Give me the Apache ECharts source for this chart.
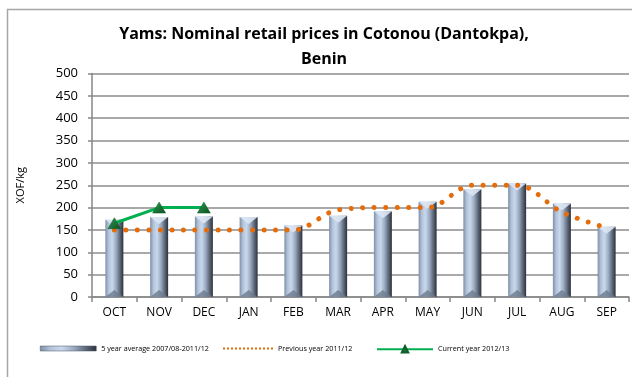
<!DOCTYPE html>
<html>
<head>
<meta charset="utf-8">
<script src="https://cdn.jsdelivr.net/npm/echarts@6/dist/echarts.min.js"></script>
<style>
  html, body { margin: 0; padding: 0; background: #fff; }
  #chart { width: 632px; height: 377px; }
</style>
</head>
<body>
<div id="chart"></div>
<script>
// Months of the marketing year (October to September)
const months = ['OCT', 'NOV', 'DEC', 'JAN', 'FEB', 'MAR', 'APR', 'MAY', 'JUN', 'JUL', 'AUG', 'SEP'];
// 5 year average 2007/08-2011/12, XOF/kg
const fiveYearAvg = [173, 179, 180, 179, 160, 182, 192, 213, 241, 254, 209, 157];
// Previous year 2011/12, XOF/kg
const previousYear = [150, 150, 150, 150, 150, 195, 200, 200, 250, 250, 190, 155];
// Current year 2012/13, XOF/kg (available months only)
const currentYear = [165, 200, 200];
// Value axis ticks
const yTicks = { min: 0, max: 500, step: 50 };

const names = {
  avg: '5 year average 2007/08-2011/12',
  prev: 'Previous year 2011/12',
  cur: 'Current year 2012/13'
};

const barGradient = new echarts.graphic.LinearGradient(0, 0, 1, 0, [
  { offset: 0, color: '#7f8ea3' },
  { offset: 0.18, color: '#b2c3da' },
  { offset: 0.38, color: '#c9d8ec' },
  { offset: 0.6, color: '#9aaac0' },
  { offset: 0.82, color: '#5b6676' },
  { offset: 1, color: '#2c323c' }
]);

// row of small square dots for the dotted-line legend key
let dotsPath = 'path://';
for (let i = 0; i < 13; i++) {
  const x = i * 4;
  dotsPath += 'M' + x + ',0h2v2h-2Z';
}

const legendText = { fontSize: 7.2, color: '#000', fontFamily: 'Open Sans' };

const chart = echarts.init(document.getElementById('chart'), null, { renderer: 'canvas' });

chart.setOption({
  animation: false,
  backgroundColor: '#fff',
  textStyle: { fontFamily: 'Open Sans' },
  title: {
    text: 'Yams: Nominal retail prices in Cotonou (Dantokpa),\nBenin',
    left: 319,
    textAlign: 'center',
    top: 17,
    textStyle: { fontSize: 16, fontWeight: 'bold', color: '#000', lineHeight: 25, fontFamily: 'Open Sans' }
  },
  graphic: [{
    type: 'rect',
    shape: { x: 7.5, y: 9.5, width: 700, height: 420 },
    style: { fill: 'none', stroke: '#a6a6a6', lineWidth: 1.5 },
    silent: true,
    z: -1
  }],
  legend: [
    {
      left: 35, top: 340, itemWidth: 56, itemHeight: 5, itemGap: 0,
      textStyle: legendText,
      data: [{ name: names.avg, icon: 'rect', itemStyle: { color: barGradient, borderColor: '#4a5566', borderWidth: 0.5 } }]
    },
    {
      left: 218, top: 340, itemWidth: 50, itemHeight: 2.2, itemGap: 0,
      textStyle: legendText,
      data: [{ name: names.prev, icon: dotsPath, itemStyle: { color: '#e46c0a' } }]
    },
    {
      left: 371, top: 340, itemWidth: 56, itemHeight: 8, itemGap: 0,
      textStyle: legendText,
      data: [{ name: names.cur, icon: 'inherit' }]
    }
  ],
  grid: { left: 92, top: 73.5, width: 537, height: 223.5 },
  xAxis: {
    type: 'category',
    data: months,
    axisLine: { lineStyle: { color: '#868686', width: 1.5 } },
    axisTick: { show: true, length: 5, lineStyle: { color: '#868686', width: 1.5 } },
    axisLabel: { color: '#000', fontSize: 12, margin: 10, fontFamily: 'Open Sans' }
  },
  yAxis: {
    type: 'value',
    min: yTicks.min,
    max: yTicks.max,
    interval: yTicks.step,
    name: 'XOF/kg',
    nameLocation: 'middle',
    nameGap: 66,
    nameTextStyle: { fontSize: 11, color: '#000', fontFamily: 'Open Sans' },
    axisLine: { show: true, lineStyle: { color: '#868686', width: 1.5 } },
    axisTick: { show: true, length: 4, lineStyle: { color: '#868686', width: 1.5 } },
    axisLabel: { color: '#000', fontSize: 13, margin: 14, fontFamily: 'Open Sans' },
    splitLine: { lineStyle: { color: '#8c8c8c', width: 1.5 } }
  },
  series: [
    {
      name: names.avg,
      type: 'bar',
      data: fiveYearAvg,
      barWidth: 18,
      barGap: '-100%',
      itemStyle: { color: barGradient },
      z: 2
    },
    {
      // bevelled top of each column
      name: names.avg,
      type: 'pictorialBar',
      data: fiveYearAvg,
      barWidth: 18,
      barGap: '-100%',
      symbol: 'path://M0,0 L20,0 L10,8 Z',
      symbolSize: [18, 7],
      symbolPosition: 'end',
      itemStyle: { color: '#dbe6f4', opacity: 0.9 },
      z: 3,
      legendHoverLink: false
    },
    {
      // darker bevel at the foot of each column
      name: names.avg,
      type: 'pictorialBar',
      data: fiveYearAvg,
      barWidth: 18,
      barGap: '-100%',
      symbol: 'path://M0,8 L20,8 L10,0 Z',
      symbolSize: [18, 7],
      symbolPosition: 'start',
      itemStyle: { color: '#6d7a8d', opacity: 0.8 },
      z: 3,
      legendHoverLink: false
    },
    {
      name: names.prev,
      type: 'line',
      data: previousYear,
      smooth: 0.35,
      symbol: 'none',
      itemStyle: { color: '#e46c0a' },
      lineStyle: { color: '#e46c0a', width: 5, type: [0.01, 11.5], cap: 'round' },
      z: 4
    },
    {
      name: names.cur,
      type: 'line',
      data: currentYear,
      symbol: 'triangle',
      symbolSize: [13, 11],
      itemStyle: {
        color: new echarts.graphic.LinearGradient(0, 0, 1, 1, [
          { offset: 0, color: '#2f9e4f' },
          { offset: 1, color: '#0b4d22' }
        ]),
        borderColor: '#0f5f2a',
        borderWidth: 0.5
      },
      lineStyle: { color: '#00b050', width: 3 },
      z: 5
    }
  ]
});
</script>
</body>
</html>
